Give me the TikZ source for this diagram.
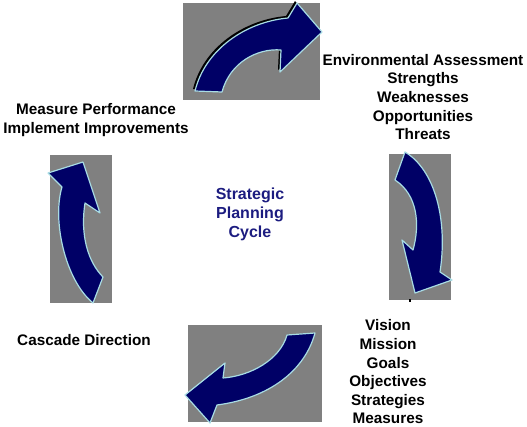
\documentclass[tikz,border=0pt]{standalone}
\usepackage{fontspec}
\setmainfont{Liberation Sans}
\usepackage{xcolor}
\usepackage{tikz}
\usetikzlibrary{positioning}

\definecolor{arrowblue}{HTML}{000066}
\definecolor{rimblue}{HTML}{A8DCE4}
\definecolor{titleblue}{HTML}{1C1C80}

\begin{document}
\begin{tikzpicture}[x=1pt,y=-1pt,
    lbl/.style={font=\bfseries\fontsize{15.3}{18.6}\selectfont, align=center, inner sep=0pt},
    panel/.style={fill=gray},
    bigarrow/.style={fill=arrowblue, draw=rimblue, line width=1.2pt, line join=round}]
  \useasboundingbox (0,0) rectangle (527,427);
  % grey panels
  \fill[panel] (183,3) rectangle (320,100);
  \fill[panel] (389,154) rectangle (451,300);
  \fill[panel] (188,325) rectangle (322,422);
  \fill[panel] (50,155) rectangle (112,303);
  % top arrow, with its shadow
  \fill[black, xshift=-2pt, yshift=2pt] (195,91) .. controls (205,50) and (245,22) .. (288,18)
    -- (297,3) -- (322,32) -- (280,72) -- (281,50) .. controls (258,48) and (230,62) .. (222,92) -- cycle;
  \draw[bigarrow] (195,91) .. controls (205,50) and (245,22) .. (288,18)
    -- (297,3) -- (322,32) -- (280,72) -- (281,50) .. controls (258,48) and (230,62) .. (222,92) -- cycle;
  % right arrow
  \draw[bigarrow] (405,152) .. controls (435,170) and (448,220) .. (440,272)
    -- (452,280) -- (415,293) -- (402,240) -- (413,250) .. controls (420,225) and (418,195) .. (395,180) -- cycle;
  \fill (409,299) rectangle (411,302);
  % bottom arrow
  \draw[bigarrow] (315,333) .. controls (305,370) and (270,398) .. (217,405)
    -- (210,423) -- (185,395) -- (225,363) -- (223,378) .. controls (250,376) and (280,360) .. (287,335) -- cycle;
  % left arrow
  \draw[bigarrow] (93,303) .. controls (65,280) and (52,220) .. (62,187)
    -- (48,173) -- (83,162) -- (100,213) -- (85,203) .. controls (80,235) and (88,262) .. (103,277) -- cycle;
  % texts
  \node[lbl] (env) at (423,97) {Environmental Assessment\\Strengths\\Weaknesses\\Opportunities\\Threats};
  \node[lbl] (vision) at (388,372) {Vision\\Mission\\Goals\\Objectives\\Strategies\\Measures};
  \node[lbl] (measure) at (96,120) {Measure Performance\\Implement Improvements};
  \node[lbl] (cascade) at (84,340) {Cascade Direction};
  \node[lbl, font=\bfseries\fontsize{16}{19}\selectfont, text=titleblue] (cycle) at (250,214) {Strategic\\Planning\\Cycle};
\end{tikzpicture}
\end{document}
